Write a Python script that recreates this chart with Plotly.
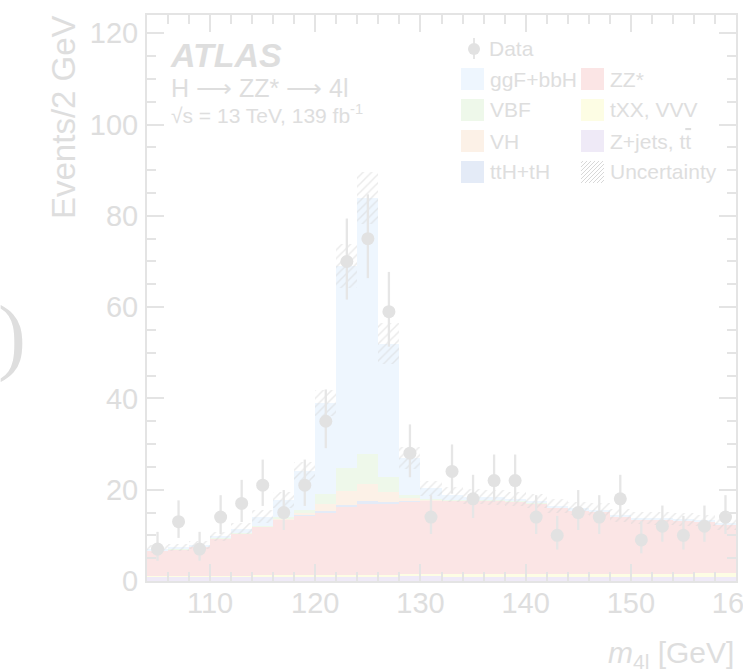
import numpy as np
import plotly.graph_objects as go

# ---------------- data ----------------
mass = [105, 107, 109, 111, 113, 115, 117, 119, 121, 123, 125, 127, 129, 131,
        133, 135, 137, 139, 141, 143, 145, 147, 149, 151, 153, 155, 157, 159]

data_counts = [7, 13, 7, 14, 17, 21, 15, 21, 35, 70, 75, 59, 28, 14,
               24, 18, 22, 22, 14, 10, 15, 14, 18, 9, 12, 10, 12, 14]
data_err_up = [3.77, 4.67, 3.77, 4.80, 5.16, 5.60, 4.92, 5.60, 6.97, 9.41, 9.71, 8.72, 6.31, 4.80,
               5.92, 5.27, 5.71, 5.71, 4.80, 4.26, 4.92, 4.80, 5.27, 4.11, 4.53, 4.26, 4.53, 4.80]
data_err_dn = [2.58, 3.56, 2.58, 3.70, 4.08, 4.55, 3.83, 4.55, 5.90, 8.35, 8.65, 7.66, 5.27, 3.70,
               4.87, 4.20, 4.66, 4.66, 3.70, 3.11, 3.83, 3.70, 4.20, 2.94, 3.41, 3.11, 3.41, 3.70]

zjets = [1.0, 1.0, 1.0, 1.0, 1.0, 1.0, 1.0, 1.0, 1.0, 1.0, 1.0, 1.0, 1.0, 1.0,
         0.95, 0.95, 0.95, 0.95, 0.9, 0.9, 0.9, 0.9, 0.9, 0.9, 0.85, 0.85, 0.85, 0.85]
txx = [0.1, 0.1, 0.15, 0.2, 0.2, 0.25, 0.3, 0.3, 0.35, 0.35, 0.4, 0.4, 0.45, 0.45,
       0.5, 0.5, 0.55, 0.55, 0.6, 0.6, 0.65, 0.65, 0.7, 0.7, 0.75, 0.75, 0.8, 0.85]
zz = [5.6, 5.9, 6.35, 8.1, 9.2, 10.65, 12.1, 13.1, 13.75, 14.85, 15.5, 15.5, 16.05, 16.15,
      16.15, 16.15, 16.1, 15.9, 15.5, 14.6, 13.95, 13.65, 12.5, 11.9, 11.8, 11.6, 11.35, 10.6]
tth = [0, 0, 0, 0, 0, 0, 0.02, 0.05, 0.2, 0.5, 0.7, 0.4, 0.1, 0.03,
       0, 0, 0, 0, 0, 0, 0, 0, 0, 0, 0, 0, 0, 0]
vh = [0, 0, 0, 0, 0.05, 0.1, 0.2, 0.5, 1.5, 3.0, 3.6, 2.2, 0.6, 0.15,
      0.05, 0.03, 0.02, 0.01, 0, 0, 0, 0, 0, 0, 0, 0, 0, 0]
vbf = [0.02, 0.02, 0.03, 0.04, 0.08, 0.15, 0.3, 0.7, 2.2, 5.0, 6.6, 3.3, 0.7, 0.2,
       0.1, 0.06, 0.05, 0.04, 0.04, 0.03, 0.03, 0.03, 0.02, 0.02, 0.02, 0.02, 0.02, 0.02]
ggf = [0.28, 0.33, 0.37, 0.46, 0.97, 1.95, 3.88, 8.35, 20.0, 44.3, 56.1, 29.2, 8.1, 2.32,
       1.15, 0.81, 0.63, 0.55, 0.46, 0.37, 0.37, 0.32, 0.28, 0.28, 0.28, 0.23, 0.23, 0.18]
unc = [0.8, 0.8, 0.9, 1.0, 1.2, 1.4, 1.8, 2.1, 2.9, 4.9, 5.6, 4.5, 2.4, 1.6,
       1.6, 1.6, 1.6, 1.6, 1.6, 1.5, 1.5, 1.5, 1.4, 1.4, 1.4, 1.4, 1.3, 1.3]

x_ticks = [110, 120, 130, 140, 150, 160]
y_ticks = [0, 20, 40, 60, 80, 100, 120]

# ---------------- style ----------------
TXT = "#dedede"
AX = "#e4e4e4"
FONT = "Liberation Sans, Arial, sans-serif"
components = [
    ("Z+jets, tt̄", zjets, "#efeaf7"),
    ("tXX, VVV", txx, "#fdfde4"),
    ("ZZ*", zz, "#fbe5e5"),
    ("ttH+tH", tth, "#e4ebf7"),
    ("VH", vh, "#fcf1e7"),
    ("VBF", vbf, "#eef8ea"),
    ("ggF+bbH", ggf, "#eef6fe"),
]

W, H = 743, 672
ML, MR, MT, MB = 147, 7, 15, 91
PW, PH = W - ML - MR, H - MT - MB


def px(xp):
    return (xp - ML) / PW


def py(yp):
    return (H - MB - yp) / PH


fig = go.Figure()

base = np.zeros(len(mass))
for name, vals, col in components:
    v = np.array(vals, dtype=float)
    fig.add_trace(go.Bar(x=mass, y=v, base=base.copy(), width=2, name=name,
                         marker=dict(color=col, line=dict(width=0)), showlegend=False,
                         hoverinfo="skip"))
    base = base + v
total = base
u = np.array(unc)
fig.add_trace(go.Bar(x=mass, y=2 * u, base=total - u, width=2, name="Uncertainty",
                     marker=dict(color="rgba(0,0,0,0)", line=dict(width=0),
                                 pattern=dict(shape="/", fgcolor="#d6d6d6", bgcolor="rgba(0,0,0,0)",
                                              size=6, solidity=0.24)),
                     showlegend=False, hoverinfo="skip"))

fig.add_trace(go.Scatter(x=mass, y=data_counts, mode="markers", name="Data",
                         marker=dict(size=13, color="#e2e2e2"),
                         error_y=dict(type="data", symmetric=False, array=data_err_up,
                                      arrayminus=data_err_dn, width=0, thickness=2.3,
                                      color="#e6e6e6"),
                         showlegend=False))

axis_common = dict(showline=True, linecolor=AX, linewidth=2, mirror="ticks",
                   ticks="inside", tickcolor=AX, tickwidth=1.5, ticklen=17,
                   showgrid=False, zeroline=False, automargin=False,
                   tickfont=dict(family=FONT, size=29, color=TXT))

fig.update_layout(
    width=W, height=H, margin=dict(l=ML, r=MR, t=MT, b=MB, autoexpand=False),
    paper_bgcolor="white", plot_bgcolor="white",
    barmode="overlay", bargap=0, showlegend=False,
    xaxis=dict(range=[104, 160], tickvals=x_ticks, ticklabeloverflow="allow",
               ticklabelstandoff=-5,
               minor=dict(dtick=2, ticklen=9, ticks="inside", tickcolor=AX, tickwidth=1.5),
               **axis_common),
    yaxis=dict(range=[0, 124], tickvals=y_ticks, ticklabelstandoff=1,
               minor=dict(dtick=5, ticklen=9, ticks="inside", tickcolor=AX, tickwidth=1.5),
               **axis_common),
)

ann = []
ann.append(dict(text="Events/2 GeV", textangle=-90, x=px(64), y=py(13), xref="paper", yref="paper",
                xanchor="center", yanchor="top", showarrow=False,
                font=dict(family=FONT, size=33, color=TXT)))
ann.append(dict(text="<i>m</i><sub>4l</sub> [GeV]", x=px(736), y=py(654), xref="paper", yref="paper",
                xanchor="right", yanchor="middle", showarrow=False,
                font=dict(family=FONT, size=30, color=TXT)))
ann.append(dict(text="<b><i>ATLAS</i></b>", x=px(168), y=py(55), xref="paper", yref="paper",
                xanchor="left", yanchor="middle", showarrow=False,
                font=dict(family=FONT, size=34, color=TXT)))
ann.append(dict(text="H ⟶ ZZ* ⟶ 4l", x=px(169), y=py(88), xref="paper", yref="paper",
                xanchor="left", yanchor="middle", showarrow=False,
                font=dict(family=FONT, size=25, color=TXT)))
ann.append(dict(text="√s = 13 TeV, 139 fb<sup>-1</sup>", x=px(169), y=py(114), xref="paper", yref="paper",
                xanchor="left", yanchor="middle", showarrow=False,
                font=dict(family=FONT, size=21, color=TXT)))
ann.append(dict(text=")", x=px(28), y=py(336), xref="paper", yref="paper",
                xanchor="right", yanchor="middle", showarrow=False,
                font=dict(family="Liberation Serif, Times New Roman, serif", size=84, color=TXT)))

# ---------------- manual legend ----------------
shapes = []
# Data entry
shapes.append(dict(type="line", xref="paper", yref="paper", x0=px(474), x1=px(474), y0=py(38), y1=py(59),
                   line=dict(color="#e6e6e6", width=2)))
shapes.append(dict(type="circle", xref="paper", yref="paper", x0=px(468), x1=px(480), y0=py(55), y1=py(43),
                   fillcolor="#e2e2e2", line=dict(width=0)))
ann.append(dict(text="Data", x=px(487), y=py(49), xref="paper", yref="paper", xanchor="left",
                yanchor="middle", showarrow=False, font=dict(family=FONT, size=21, color=TXT)))

legend_rows = [
    [("ggF+bbH", "#eef6fe"), ("ZZ*", "#fbe5e5")],
    [("VBF", "#eef8ea"), ("tXX, VVV", "#fdfde4")],
    [("VH", "#fcf1e7"), ("Z+jets, t<span style='text-decoration:overline'>t</span>", "#efeaf7")],
    [("ttH+tH", "#e4ebf7"), ("Uncertainty", None)],
]
row_y = [79, 110, 141, 172]
col_x = [461, 581]
for r, row in enumerate(legend_rows):
    cy = row_y[r]
    for c, (label, col) in enumerate(row):
        x0 = col_x[c]
        if col is not None:
            shapes.append(dict(type="rect", xref="paper", yref="paper", x0=px(x0), x1=px(x0 + 23),
                               y0=py(cy + 11), y1=py(cy - 11), fillcolor=col, line=dict(width=0)))
        else:
            bw, bh = 23, 22
            for d in range(-20, 24, 4):
                s = max(0, d)
                e = min(bw, bh + d)
                if s < e:
                    shapes.append(dict(type="line", xref="paper", yref="paper",
                                       x0=px(x0 + s), y0=py(cy + 11 - (s - d)),
                                       x1=px(x0 + e), y1=py(cy + 11 - (e - d)),
                                       line=dict(color="#d8d8d8", width=1)))
        ann.append(dict(text=label, x=px(x0 + 27), y=py(cy), xref="paper", yref="paper",
                        xanchor="left", yanchor="middle", showarrow=False,
                        font=dict(family=FONT, size=21, color=TXT)))

fig.update_layout(annotations=ann, shapes=shapes)
fig.write_html("out.html")
